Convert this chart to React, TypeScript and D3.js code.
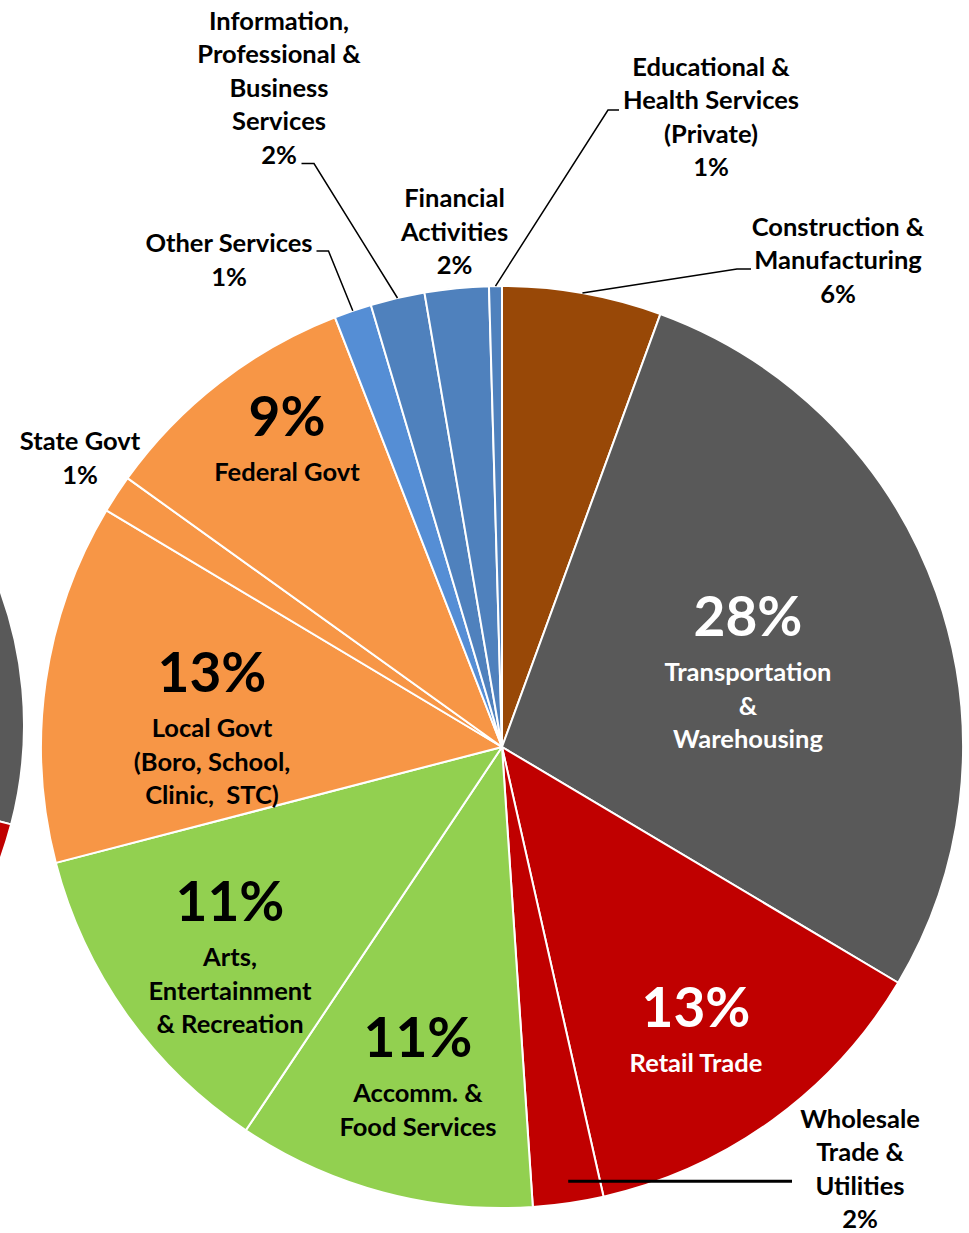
import React from "react";
import * as d3 from "d3";

// ---- Data ----
const categories = [
  "Construction & Manufacturing",
  "Transportation & Warehousing",
  "Retail Trade",
  "Wholesale Trade & Utilities",
  "Accomm. & Food Services",
  "Arts, Entertainment & Recreation",
  "Local Govt (Boro, School, Clinic, STC)",
  "State Govt",
  "Federal Govt",
  "Other Services",
  "Information, Professional & Business Services",
  "Financial Activities",
  "Educational & Health Services (Private)",
];
const shares = [5.58, 27.96, 12.92, 2.47, 10.44, 11.58, 12.62, 1.33, 9.19, 1.31, 1.9, 2.24, 0.45];
const percentLabels = ["6%", "28%", "13%", "2%", "11%", "11%", "13%", "1%", "9%", "1%", "2%", "2%", "1%"];
const labelLines = [
  ["Construction &", "Manufacturing"],
  ["Transportation", "&", "Warehousing"],
  ["Retail Trade"],
  ["Wholesale", "Trade &", "Utilities"],
  ["Accomm. &", "Food Services"],
  ["Arts,", "Entertainment", "& Recreation"],
  ["Local Govt", "(Boro, School,", "Clinic,  STC)"],
  ["State Govt"],
  ["Federal Govt"],
  ["Other Services"],
  ["Information,", "Professional &", "Business", "Services"],
  ["Financial", "Activities"],
  ["Educational &", "Health Services", "(Private)"],
];
// neighbouring (cropped) pie at the left edge; only a sliver is visible
const neighborShares = [6.0, 23.1, 13, 2.5, 10, 11, 14, 1.5, 10, 1.5, 2.5, 3, 1.9];

// ---- Styles / layout ----
const colors = [
  "#984807", "#595959", "#C00000", "#C00000", "#92D050", "#92D050",
  "#F79646", "#F79646", "#F79646", "#558ED5", "#4F81BD", "#4F81BD", "#4F81BD",
];
const W = 969;
const H = 1233;
const CX = 502;
const CY = 747;
const R = 461;
const NCX = -366;
const NCY = 725;
const NR = 390;
const FONT = "Lato, 'Open Sans', sans-serif";
const SMALL = 25.5;
const BIG = 55;

type Layout = {
  x: number;
  y: number; // baseline of first line
  inside: boolean;
  color: string;
  lead?: { elbowX: number; elbowY: number; textX: number } | { wholesaleTo: number; rFrac: number };
};
const layouts: Layout[] = [
  { x: 838, y: 235.5, inside: false, color: "#000", lead: { elbowX: 737, elbowY: 269, textX: 751 } },
  { x: 748, y: 636, inside: true, color: "#fff" },
  { x: 696, y: 1027, inside: true, color: "#fff" },
  { x: 860, y: 1127.5, inside: false, color: "#000", lead: { wholesaleTo: 792, rFrac: 0.952 } },
  { x: 418, y: 1057, inside: true, color: "#000" },
  { x: 230, y: 921, inside: true, color: "#000" },
  { x: 212, y: 692, inside: true, color: "#000" },
  { x: 80, y: 450, inside: false, color: "#000" },
  { x: 287, y: 436, inside: true, color: "#000" },
  { x: 229, y: 252, inside: false, color: "#000", lead: { elbowX: 328.5, elbowY: 251, textX: 316.5 } },
  { x: 279, y: 29.5, inside: false, color: "#000", lead: { elbowX: 314, elbowY: 163.5, textX: 301.5 } },
  { x: 454.5, y: 207, inside: false, color: "#000" },
  { x: 711, y: 75.5, inside: false, color: "#000", lead: { elbowX: 608, elbowY: 110, textX: 619 } },
];

const LINE = 33.6;

export default function App() {
  const pie = d3
    .pie<number>()
    .sort(null)
    .value((d) => d)
    .startAngle(0)
    .endAngle(2 * Math.PI);
  const arcs = pie(shares);
  const arcGen = d3.arc<d3.PieArcDatum<number>>().innerRadius(0).outerRadius(R);
  const nArcs = pie(neighborShares);
  const nArcGen = d3.arc<d3.PieArcDatum<number>>().innerRadius(0).outerRadius(NR);

  const polar = (a: number, r: number): [number, number] => [CX + r * Math.sin(a), CY - r * Math.cos(a)];

  return (
    <div style={{ position: "absolute", left: 0, top: 0, width: W, height: H, overflow: "hidden", background: "#fff" }}>
      <svg width={W} height={H} viewBox={`0 0 ${W} ${H}`} style={{ display: "block" }}>
        <rect width={W} height={H} fill="#fff" />
        {/* neighbouring pie, cropped */}
        <g transform={`translate(${NCX},${NCY})`}>
          {nArcs.map((a, i) => (
            <path key={"n" + i} d={nArcGen(a) || ""} fill={colors[i]} stroke="#fff" strokeWidth={2} />
          ))}
        </g>
        {/* main pie */}
        <g transform={`translate(${CX},${CY})`}>
          {arcs.map((a, i) => (
            <path key={categories[i]} d={arcGen(a) || ""} fill={colors[i]} stroke="#fff" strokeWidth={2} strokeLinejoin="round" />
          ))}
        </g>
        {/* leader lines */}
        {arcs.map((a, i) => {
          const L = layouts[i];
          if (!L.lead) return null;
          const mid = (a.startAngle + a.endAngle) / 2;
          if ("wholesaleTo" in L.lead) {
            const [sx, sy] = polar(mid, R * L.lead.rFrac);
            return (
              <line key={"l" + i} x1={sx + 3} y1={sy} x2={L.lead.wholesaleTo} y2={sy} stroke="#000" strokeWidth={3} />
            );
          }
          const [ex, ey] = polar(mid, R);
          const ld = L.lead;
          return (
            <polyline
              key={"l" + i}
              points={`${ld.textX},${ld.elbowY} ${ld.elbowX},${ld.elbowY} ${ex},${ey}`}
              fill="none"
              stroke="#000"
              strokeWidth={1.5}
            />
          );
        })}
        {/* labels */}
        {arcs.map((a, i) => {
          const L = layouts[i];
          const lines = labelLines[i];
          if (L.inside) {
            return (
              <text key={"t" + i} textAnchor="middle" fill={L.color} fontFamily={FONT} fontWeight={700}>
                <tspan x={L.x} y={L.y} fontSize={BIG}>
                  {percentLabels[i]}
                </tspan>
                {lines.map((ln, j) => (
                  <tspan key={j} x={L.x} y={L.y + 45 + j * LINE} fontSize={SMALL} style={{ whiteSpace: "pre" }}>
                    {ln}
                  </tspan>
                ))}
              </text>
            );
          }
          const all = [...lines, percentLabels[i]];
          return (
            <text key={"t" + i} textAnchor="middle" fill={L.color} fontFamily={FONT} fontWeight={700} fontSize={SMALL}>
              {all.map((ln, j) => (
                <tspan key={j} x={L.x} y={L.y + j * LINE}>
                  {ln}
                </tspan>
              ))}
            </text>
          );
        })}
      </svg>
    </div>
  );
}
